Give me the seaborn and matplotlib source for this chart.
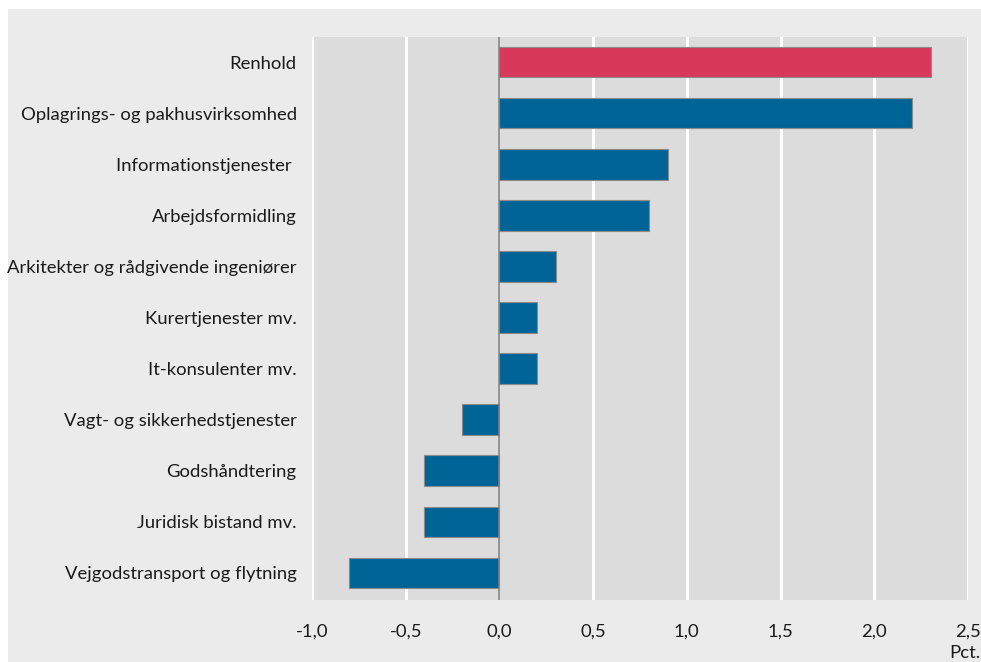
import pandas as pd
import matplotlib.pyplot as plt
import seaborn as sns
from matplotlib.patches import Rectangle

# Data
categories = [
    "Renhold",
    "Oplagrings- og pakhusvirksomhed",
    "Informationstjenester ",
    "Arbejdsformidling",
    "Arkitekter og rådgivende ingeniører",
    "Kurertjenester mv.",
    "It-konsulenter mv.",
    "Vagt- og sikkerhedstjenester",
    "Godshåndtering",
    "Juridisk bistand mv.",
    "Vejgodstransport og flytning",
]
values = [2.3, 2.2, 0.9, 0.8, 0.3, 0.2, 0.2, -0.2, -0.4, -0.4, -0.8]
highlight = ["Renhold"]
x_ticks = [-1.0, -0.5, 0.0, 0.5, 1.0, 1.5, 2.0, 2.5]

RED = "#d8395a"
BLUE = "#006496"

df = pd.DataFrame({"Branche": categories, "Pct": values})
df["Gruppe"] = ["hl" if c in highlight else "rest" for c in categories]

sns.set_theme(style="white")
plt.rcParams['font.family'] = ['Lato', 'DejaVu Sans']

fig = plt.figure(figsize=(9.81, 6.62), dpi=100)
fig.patch.set_facecolor("white")
fig.patches.append(Rectangle((8 / 981, 0), 1, 1 - 9 / 662, transform=fig.transFigure,
                             facecolor="#ebebeb", edgecolor="none", zorder=-10))

ax = fig.add_axes([312 / 981, 1 - 600 / 662, 656 / 981, 563 / 662])
ax.set_facecolor("#dcdcdc")

sns.barplot(data=df, x="Pct", y="Branche", hue="Gruppe", order=categories,
            palette={"hl": RED, "rest": BLUE}, orient="h", width=0.6,
            dodge=False, legend=False, edgecolor="#8a8a8a", linewidth=0.8,
            saturation=1, ax=ax, zorder=3)

ax.set_xlim(-1.0, 2.5)
ax.set_ylim(len(categories) - 0.47, -0.49)
ax.set_xticks(x_ticks)
ax.set_xticklabels([f"{t:.1f}".replace(".", ",") for t in x_ticks])
for t in x_ticks[1:]:
    if t != 0:
        ax.axvline(t, color="white", linewidth=2.2, zorder=1)
ax.axvline(-1.0, color="white", linewidth=3, zorder=1)
ax.axvline(0, color="#808080", linewidth=1.1, zorder=4)

for s in ax.spines.values():
    s.set_visible(False)
ax.tick_params(axis="both", length=0, labelsize=13.3, colors="#1a1a1a")
ax.tick_params(axis="y", pad=11)
ax.tick_params(axis="x", pad=17)
ax.set_xlabel("")
ax.set_ylabel("")
fig.text(980 / 981, 1 - 653 / 662, "Pct.", ha="right", va="center", fontsize=13.3,
         color="#1a1a1a")

fig.savefig("out.png", dpi=100, facecolor=fig.get_facecolor())
